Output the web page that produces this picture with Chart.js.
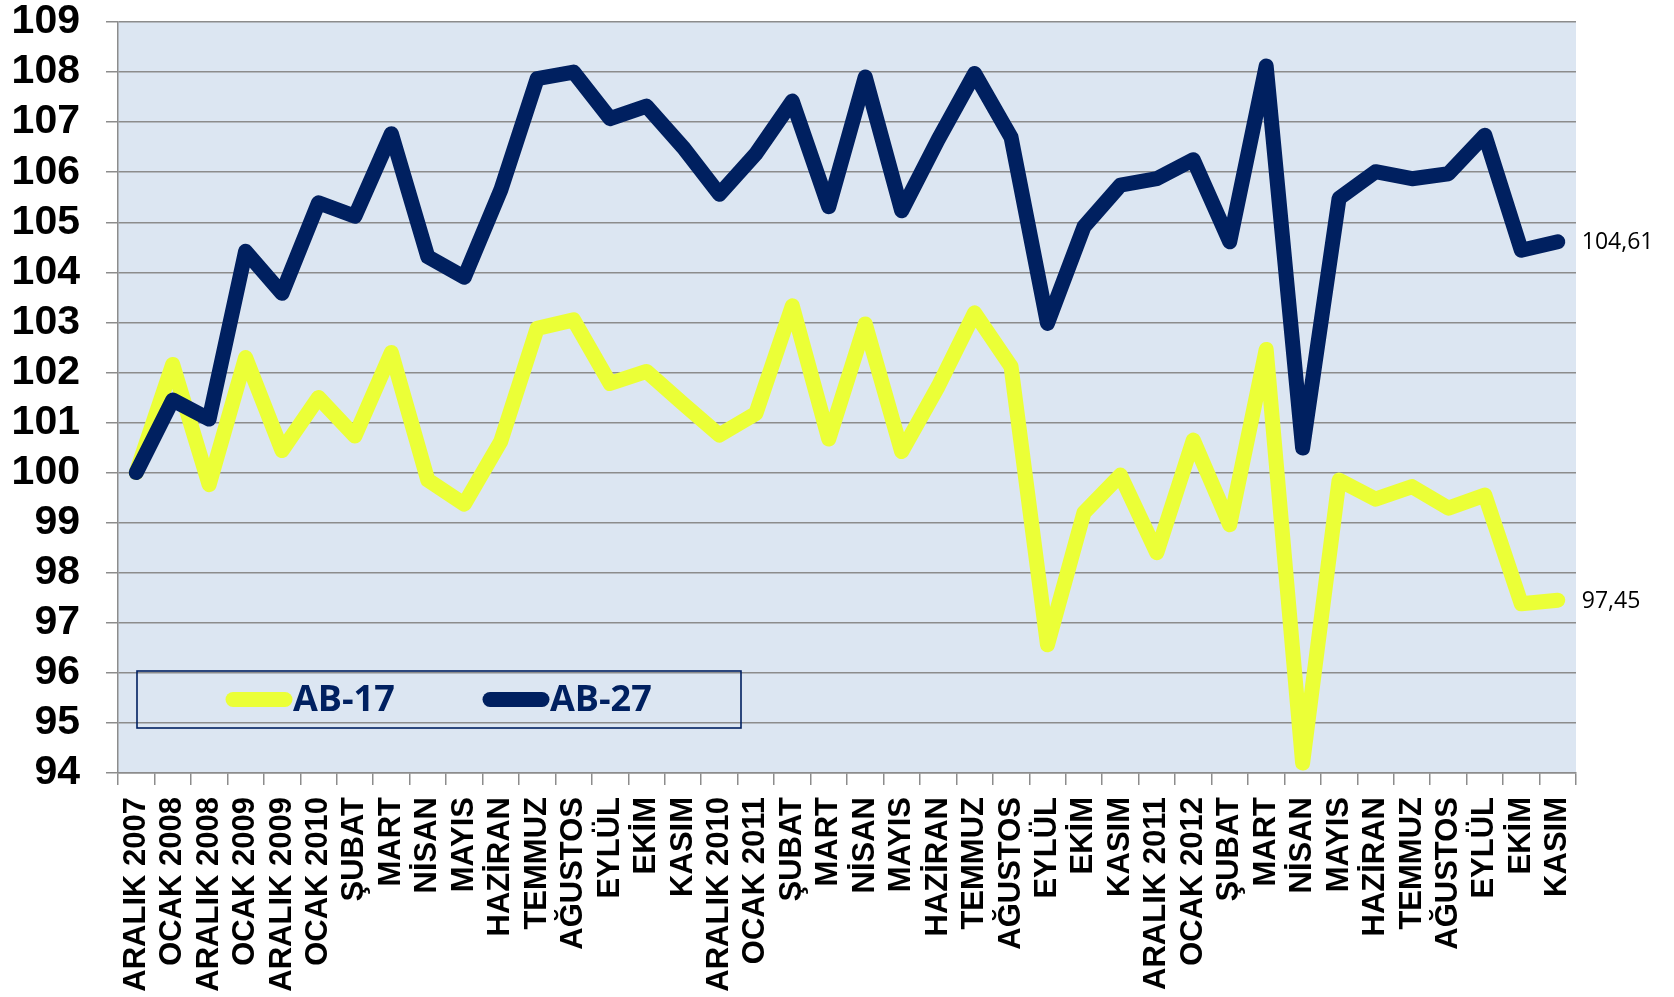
<!DOCTYPE html>
<html>
<head>
<meta charset="utf-8">
<script src="https://cdn.jsdelivr.net/npm/chart.js@4/dist/chart.umd.min.js"></script>
<style>
  html, body { margin: 0; padding: 0; background: #ffffff; }
  #wrap { width: 1674px; height: 997px; }
</style>
</head>
<body>
<div id="wrap"><canvas id="indexChart" width="1674" height="997"></canvas></div>
<script>
const months = [
  "ARALIK 2007", "OCAK 2008", "ARALIK 2008", "OCAK 2009", "ARALIK 2009", "OCAK 2010",
  "ŞUBAT", "MART", "NİSAN", "MAYIS", "HAZİRAN", "TEMMUZ", "AĞUSTOS", "EYLÜL", "EKİM", "KASIM",
  "ARALIK 2010", "OCAK 2011", "ŞUBAT", "MART", "NİSAN", "MAYIS", "HAZİRAN", "TEMMUZ", "AĞUSTOS",
  "EYLÜL", "EKİM", "KASIM", "ARALIK 2011", "OCAK 2012", "ŞUBAT", "MART", "NİSAN", "MAYIS",
  "HAZİRAN", "TEMMUZ", "AĞUSTOS", "EYLÜL", "EKİM", "KASIM"
];

const ab17 = [
  100.0, 102.16, 99.76, 102.3, 100.44, 101.5, 100.73, 102.4, 99.85, 99.37,
  100.62, 102.88, 103.05, 101.78, 102.02, 101.38, 100.75, 101.18, 103.33, 100.67,
  102.97, 100.42, 101.72, 103.19, 102.12, 96.56, 99.2, 99.95, 98.4, 100.65,
  98.96, 102.46, 94.2, 99.85, 99.47, 99.72, 99.29, 99.55, 97.38, 97.45
];

const ab27 = [
  100.0, 101.45, 101.07, 104.42, 103.58, 105.39, 105.12, 106.77, 104.31, 103.9,
  105.64, 107.87, 108.0, 107.07, 107.32, 106.5, 105.56, 106.37, 107.42, 105.31,
  107.9, 105.23, 106.65, 107.97, 106.7, 102.98, 104.91, 105.74, 105.87, 106.25,
  104.61, 108.12, 100.49, 105.48, 106.01, 105.87, 105.97, 106.74, 104.44, 104.61
];

const yTicks = [94, 109];
const legendOrder = ["AB-17", "AB-27"];

const navy = "#002060";
const yellow = "#ebff37";
const gridGray = "#8c8c8c";

// light blue plot area
const plotBg = {
  id: "plotBg",
  beforeDraw(chart) {
    const a = chart.chartArea;
    const ctx = chart.ctx;
    ctx.save();
    ctx.fillStyle = "#dce6f2";
    ctx.fillRect(a.left, a.top, a.right - a.left, a.bottom - a.top);
    ctx.restore();
  }
};

// value printed after the last point of each line
const endLabels = {
  id: "endLabels",
  afterDatasetsDraw(chart) {
    const ctx = chart.ctx;
    ctx.save();
    ctx.font = "23px 'Open Sans'";
    ctx.fillStyle = "#000000";
    ctx.textBaseline = "middle";
    chart.data.datasets.forEach((ds, i) => {
      const pts = chart.getDatasetMeta(i).data;
      const last = pts[pts.length - 1];
      const v = ds.data[ds.data.length - 1];
      ctx.fillText(v.toFixed(2).replace(".", ","), last.x + 24, last.y + 1);
    });
    ctx.restore();
  }
};

// boxed legend sitting inside the plot, lower left
const boxLegend = {
  id: "boxLegend",
  afterDraw(chart) {
    const a = chart.chartArea;
    const ctx = chart.ctx;
    const bx = a.left + 19, by = a.bottom - 102, bw = 604, bh = 57;
    ctx.save();
    ctx.strokeStyle = navy;
    ctx.lineWidth = 1.6;
    ctx.strokeRect(bx, by, bw, bh);
    ctx.font = "bold 36px 'Open Sans'";
    ctx.textBaseline = "middle";
    const starts = [bx + 96, bx + 353];
    legendOrder.forEach((name, k) => {
      const ds = chart.data.datasets.find(d => d.label === name);
      const sx = starts[k];
      ctx.strokeStyle = ds.borderColor;
      ctx.lineWidth = 15;
      ctx.lineCap = "round";
      ctx.beginPath();
      ctx.moveTo(sx, by + 28.5);
      ctx.lineTo(sx + 52, by + 28.5);
      ctx.stroke();
      ctx.fillStyle = navy;
      ctx.fillText(name, sx + 60, by + 30);
    });
    ctx.restore();
  }
};

new Chart(document.getElementById("indexChart").getContext("2d"), {
  type: "line",
  data: {
    labels: months,
    datasets: [
      {
        label: "AB-27",
        data: ab27,
        borderColor: navy,
        backgroundColor: navy,
        borderWidth: 15,
        pointRadius: 0,
        tension: 0,
        borderJoinStyle: "round",
        borderCapStyle: "round"
      },
      {
        label: "AB-17",
        data: ab17,
        borderColor: yellow,
        backgroundColor: yellow,
        borderWidth: 15,
        pointRadius: 0,
        tension: 0,
        borderJoinStyle: "round",
        borderCapStyle: "round"
      }
    ]
  },
  options: {
    responsive: false,
    animation: false,
    devicePixelRatio: 1,
    layout: { padding: { top: 22, right: 98, left: 0, bottom: 0 } },
    plugins: {
      legend: { display: false },
      tooltip: { enabled: false }
    },
    scales: {
      x: {
        offset: true,
        grid: {
          offset: true,
          drawOnChartArea: false,
          drawTicks: true,
          tickLength: 12,
          color: gridGray,
          lineWidth: 1.5
        },
        border: { color: gridGray, width: 1.5 },
        ticks: {
          autoSkip: false,
          maxRotation: 90,
          minRotation: 90,
          padding: 12,
          color: "#000000",
          font: { family: "'Liberation Sans'", size: 31, weight: "bold" }
        },
        afterFit(scale) {
          scale.height = 224;
          scale.paddingLeft = 0;
          scale.paddingRight = 0;
        }
      },
      y: {
        min: yTicks[0],
        max: yTicks[1],
        grid: {
          color: gridGray,
          lineWidth: 1.5,
          drawTicks: true,
          tickLength: 12
        },
        border: { color: gridGray, width: 1.5 },
        ticks: {
          stepSize: 1,
          autoSkip: false,
          padding: 26,
          color: "#000000",
          font: { family: "'Liberation Sans'", size: 41, weight: "bold" }
        },
        afterFit(scale) {
          scale.width = 118;
          scale.paddingTop = 0;
          scale.paddingBottom = 0;
        }
      }
    }
  },
  plugins: [plotBg, endLabels, boxLegend]
});
</script>
</body>
</html>
